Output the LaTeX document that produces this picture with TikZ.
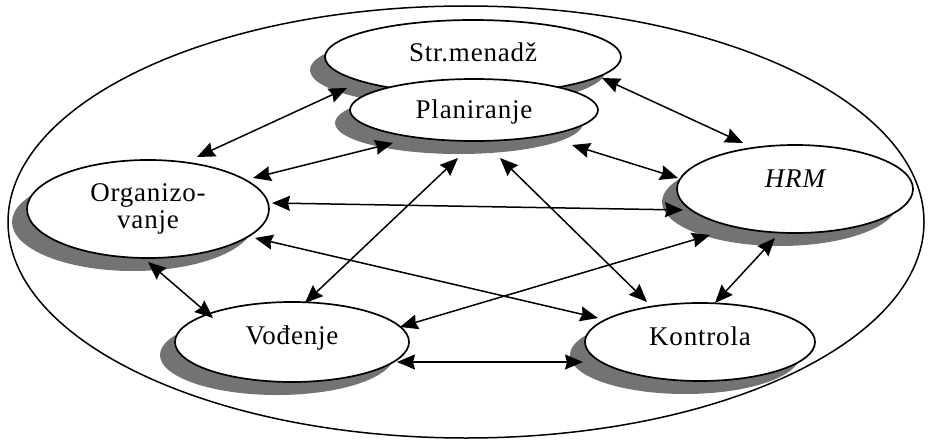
\documentclass[tikz,border=0pt]{standalone}
\usepackage{fontspec}
\setmainfont{Liberation Serif}[LetterSpace=3]
\usetikzlibrary{shapes.geometric,shadows,arrows.meta}
\begin{document}
\begin{tikzpicture}[x=1pt,y=-1pt,
  blob/.style={ellipse, draw=black, line width=1.7pt, fill=white, inner sep=0pt,
    drop shadow={shadow xshift=-15pt, shadow yshift=-13pt, fill=black!55, opacity=1},
    font=\fontsize{27}{27}\selectfont, text height=18pt, text depth=0pt},
  link/.style={arrows={Stealth[length=18pt,width=15pt,inset=2pt]-Stealth[length=18pt,width=15pt,inset=2pt]}, line width=1.5pt}
]
\useasboundingbox (0,0) rectangle (936,444);
\node[draw, ellipse, line width=1.5pt, minimum width=916pt, minimum height=432pt, inner sep=0pt] (outer) at (466,222) {};
\node[blob, minimum width=296pt, minimum height=74pt] (str) at (473,57) {\raisebox{4pt}{Str.menadž}};
\node[blob, minimum width=248pt, minimum height=62pt] (pla) at (474,110) {\raisebox{1pt}{Planiranje}};
\node[blob, minimum width=242pt, minimum height=98pt, align=center, text height=, text depth=] (org) at (148,209) {Organizo-\\vanje};
\node[blob, minimum width=236pt, minimum height=88pt] (hrm) at (795,189) {\raisebox{11pt}{\itshape HRM}};
\node[blob, minimum width=234pt, minimum height=80pt] (vod) at (292,342) {\raisebox{7pt}{Vođenje}};
\node[blob, minimum width=230pt, minimum height=78pt] (kon) at (700,342) {\raisebox{6pt}{Kontrola}};

\draw[link] ([shift={(49,-52)}]org.center) -- ([shift={(-126,31)}]str.center);
\draw[link] ([shift={(105,-31)}]org.center) -- ([shift={(-81,33)}]pla.center);
\draw[link] ([shift={(124,-6)}]org.center) -- ([shift={(-112,21)}]hrm.center);
\draw[link] ([shift={(107,29)}]org.center) -- ([shift={(-102,-24)}]kon.center);
\draw[link] ([shift={(0,53)}]org.center) -- ([shift={(-79,-24)}]vod.center);
\draw[link] ([shift={(129,21)}]str.center) -- ([shift={(-52,-46)}]hrm.center);
\draw[link] ([shift={(98,35)}]pla.center) -- ([shift={(-117,-11)}]hrm.center);
\draw[link] ([shift={(-16,48)}]pla.center) -- ([shift={(13,-39)}]vod.center);
\draw[link] ([shift={(26,48)}]pla.center) -- ([shift={(-53,-40)}]kon.center);
\draw[link] ([shift={(-85,46)}]hrm.center) -- ([shift={(108,-15)}]vod.center);
\draw[link] ([shift={(-20,49)}]hrm.center) -- ([shift={(15,-39)}]kon.center);
\draw[link] ([shift={(105,20)}]vod.center) -- ([shift={(-117,20)}]kon.center);
\end{tikzpicture}
\end{document}
